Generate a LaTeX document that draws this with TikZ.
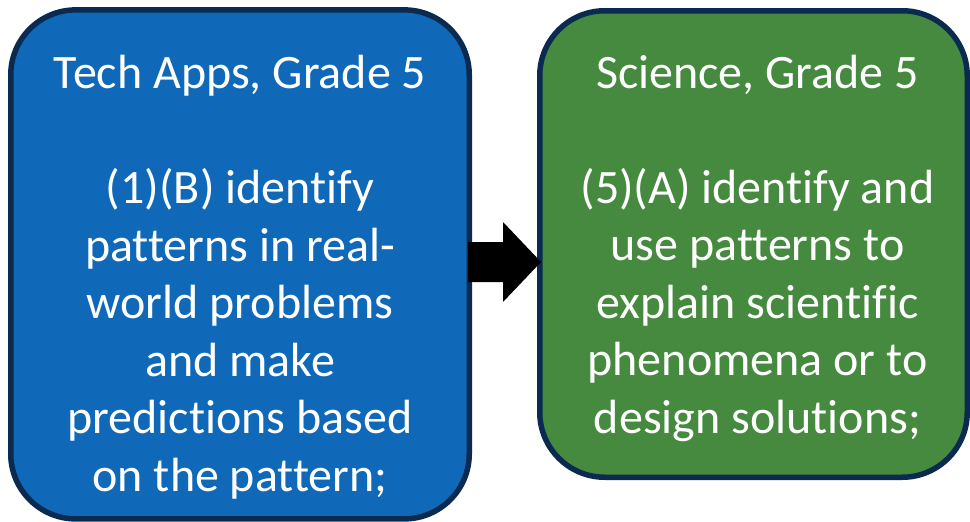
\documentclass[tikz,border=0pt]{standalone}
\usepackage{fontspec}
\setmainfont{Carlito}[Ligatures=NoCommon]
\definecolor{boxblue}{RGB}{15,105,184}
\definecolor{boxgreen}{RGB}{70,138,64}
\definecolor{boxline}{RGB}{10,42,80}
\begin{document}
\begin{tikzpicture}[x=1pt,y=-1pt,
  stdbox/.style={draw=boxline, line width=5.5pt, rounded corners=65pt, inner sep=0pt},
  boxtext/.style={text=white, align=center, inner sep=0pt, font=\fontsize{48}{57.5}\selectfont}]
\useasboundingbox (0,0) rectangle (970,522);
\node[stdbox, fill=boxblue, minimum width=458.5pt, minimum height=509pt] (tech) at (240,264.4) {};
\node[stdbox, fill=boxgreen, minimum width=427.5pt, minimum height=466.5pt] (sci) at (753.5,244) {};
\node[boxtext] (techtxt) at ([yshift=-13pt]tech.center)
  {Tech Apps, Grade 5\\[57.5pt](1)(B) identify\\patterns in real-\\world problems\\and make\\predictions based\\on the pattern;};
\node[boxtext] (scitxt) at ([xshift=4pt,yshift=-4pt]sci.center)
  {Science, Grade 5\\[57.5pt](5)(A) identify and\\use patterns to\\explain scientific\\phenomena or to\\design solutions;};
\coordinate (a0) at (468,262);
\fill[black] (a0) ++(0,-20) -- ++(35,0) -- ++(0,-20) -- (541,262) -- (503,302) -- ++(0,-20) -- ++(-35,0) -- cycle;
\end{tikzpicture}
\end{document}
